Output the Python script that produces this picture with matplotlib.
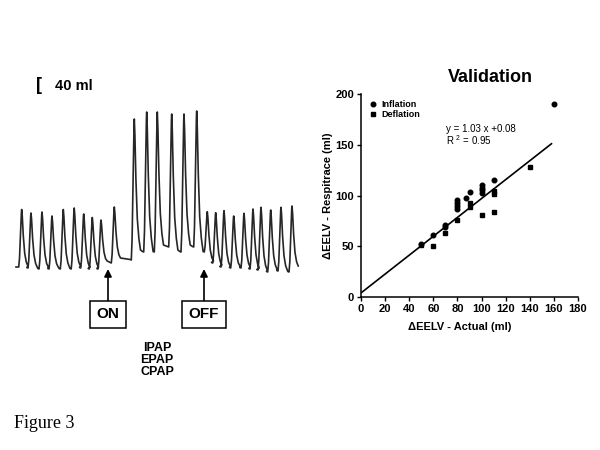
import matplotlib
matplotlib.use('Agg')
import matplotlib.pyplot as plt
import numpy as np

plt.rcParams['font.family'] = ['Liberation Sans', 'DejaVu Sans']

# respiratory trace (picture units)
trace_start = (16, 267)
peak_x = [21.7, 31, 42, 52, 63.3, 74.2, 83.7, 92.3, 101, 114.3,
          134.3, 146.7, 157.3, 171.7, 184, 196.7,
          207.3, 215.7, 224, 233.7, 244, 253, 261, 270.7, 281, 292]
peak_y = [209.5, 213, 212, 216, 209.5, 208, 214, 217.5, 220, 207,
          119, 112, 112, 114, 114, 111,
          211.7, 212.7, 210.7, 216, 213.3, 209, 207.3, 210, 207.3, 206]
trough_y = [268, 269, 269, 269, 269, 268, 269, 269, 263, 260,
            252, 252, 247, 252, 247, 252,
            263, 267, 268, 268, 269, 270, 272, 271, 272, 268]

# validation scatter
infl_x = [50, 60, 70, 70, 80, 80, 80, 80, 87, 90, 100, 100, 100, 100, 110, 160]
infl_y = [52, 61, 71, 69, 96, 93, 90, 87, 98, 103, 110, 107, 105, 102, 115, 190]
defl_x = [50, 60, 70, 80, 90, 90, 100, 110, 110, 110, 140]
defl_y = [51, 50, 63, 76, 93, 89, 81, 104, 101, 84, 128]
fit_x = [0, 158]
fit_y = [4, 151]
xticks = [0, 20, 40, 60, 80, 100, 120, 140, 160, 180]
yticks = [0, 50, 100, 150, 200]


def build_trace():
    xs = [trace_start[0]]
    ys = [trace_start[1]]
    prev_trough = trace_start[1]
    n = len(peak_x)
    for i in range(n):
        px, py, tr = peak_x[i], peak_y[i], trough_y[i]
        gap = peak_x[i + 1] - px if i < n - 1 else 8
        amp = tr - py
        up = prev_trough - py
        xs += [px - 3.0, px - 2.2, px - 1.0, px - 0.3, px,
               px + 0.6, px + 1.6, px + 3.0, px + 4.6, px + 6.2]
        ys += [prev_trough, prev_trough - 0.15 * up, py + 0.35 * up, py + 0.05 * up, py,
               py + 0.12 * amp, py + 0.45 * amp, py + 0.75 * amp, py + 0.9 * amp, tr - 2]
        if i < n - 1:
            xs += [px + gap - 4.2]
            ys += [tr - 0.5]
        prev_trough = tr
    return xs, ys


fig = plt.figure(figsize=(6, 4.5), dpi=100)
fig.patch.set_facecolor('white')

# left panel drawn in picture coordinates
ax0 = fig.add_axes([0, 0, 1, 1])
ax0.set_xlim(0, 600)
ax0.set_ylim(450, 0)
ax0.axis('off')

tx, ty = build_trace()
ax0.plot(tx, ty, color='#262626', lw=1.2, solid_joinstyle='round')

ax0.text(36, 86, '[', fontsize=13, fontweight='bold', va='center', ha='left')
ax0.text(55, 86, '40 ml', fontsize=10.5, fontweight='bold', va='center', ha='left')

for lab, x in [('ON', 108), ('OFF', 204)]:
    ax0.annotate('', xy=(x, 269), xytext=(x, 302),
                 arrowprops=dict(arrowstyle='-|>', color='k', lw=1.2,
                                 mutation_scale=11, shrinkA=0, shrinkB=0))
    ax0.text(x, 314.5, lab, fontsize=11, fontweight='bold', ha='center', va='center',
             bbox=dict(boxstyle='square,pad=0.45', fc='white', ec='k', lw=1.1))

ax0.text(157, 360, 'IPAP\nEPAP\nCPAP', fontsize=9, fontweight='bold',
         ha='center', va='center', linespacing=1.0)

ax0.text(14, 423, 'Figure 3', fontsize=13, family='Liberation Serif',
         ha='left', va='center')

# right panel
ax = fig.add_axes([361 / 600, 1 - 297 / 450, 217 / 600, 203 / 450])
ax.plot(fit_x, fit_y, color='k', lw=1.2)
ax.plot(infl_x, infl_y, 'o', color='k', ms=3.3, label='Inflation')
ax.plot(defl_x, defl_y, 's', color='k', ms=3.3, label='Deflation')

ax.set_xlim(0, 180)
ax.set_ylim(0, 200)
ax.set_xticks(xticks)
ax.set_yticks(yticks)
ax.spines['top'].set_visible(False)
ax.spines['right'].set_visible(False)
ax.spines['left'].set_linewidth(1.1)
ax.spines['bottom'].set_linewidth(1.1)
ax.tick_params(direction='out', length=3, width=1, labelsize=8, pad=2)
for lbl in ax.get_xticklabels() + ax.get_yticklabels():
    lbl.set_fontweight('bold')
ax.set_facecolor('none')

ax.set_ylabel('\u0394EELV - Respitrace (ml)', fontsize=8, fontweight='bold', labelpad=2)
ax.set_xlabel('\u0394EELV - Actual (ml)', fontsize=8, fontweight='bold')
ax.xaxis.set_label_coords(0.456, -0.125)

ax.text(70.5, 165.5, 'y = 1.03 x +0.08', fontsize=7, va='center')
ax.text(70.5, 155, r'R $^{\mathregular{2}}$ = 0.95', fontsize=7, va='center')

ax.legend(loc='upper left', frameon=False, prop={'weight': 'bold', 'size': 6.5},
          handlelength=1.2, handletextpad=0.4, borderpad=0.2, borderaxespad=0.5,
          labelspacing=0.1, numpoints=1)

fig.text(490 / 600, 1 - 77 / 450, 'Validation', fontsize=13, fontweight='bold',
         ha='center', va='center')

plt.savefig('out.png', dpi=100, facecolor='white')
